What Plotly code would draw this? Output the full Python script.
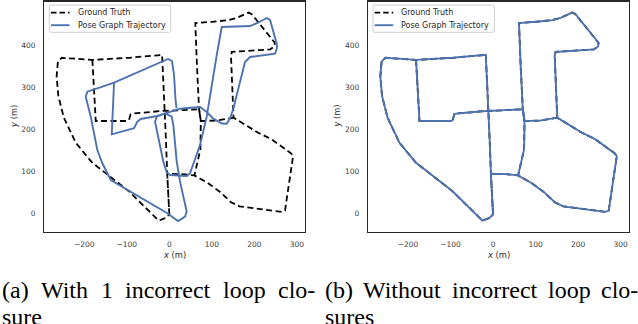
import plotly.graph_objects as go

# ---------------- data (metres) ----------------
# Ground-truth trajectory (None = break between two driven pieces)
gt_x = [0, -2, -5, -8, -11, -14, -17, -95, -181, -253, -262, -265, -261, -248, -220, -181, -95, -25, -9, 0,
        -2, -5, 30, 59, 90, 120, 145, 165, 264, 272, 291, 287, 241, 209, 151, 148, 145, 147, 237, 247, 248,
        194, 186, 160, 140, 100, 61, 65, 70, 74, 73, 59,
        None,
        -181, -173, -99, -95, -91, -84, -17, -11, 30, 70, 74, 110, 151]
gt_y = [-3, 32, 94, 176, 244, 310, 378, 371, 366, 371, 362, 327, 280, 228, 168, 120, 52, -18, -12, -3,
        32, 94, 93, 90, 72, 50, 26, 16, 3, 6, 136, 142, 176, 192, 228, 300, 375, 385, 391, 398, 407,
        475, 479, 467, 461, 457, 454, 351, 248, 220, 152, 90,
        None,
        366, 220, 220, 222, 236, 238, 244, 244, 246, 248, 220, 221, 228]

# Pose-graph estimate with one incorrect loop closure
pg_a_x = [16.9, 14.6, 11.1, 6.3, -3.1, -130.0, -157.5, -192.8, -196.6, -184.8, -169.3, -157.5, -137.8,
          -4.7, 20.5, 36.9, 40.9, 25.2, 17.4, 9.4, 5.6, -10.1, -29.6, -33.6, -14.1, -6.1, 1.6, 40.9,
          48.7, 72.2, 87.9, 95.7, 111.5, 123.2, 189.8, 208.6, 229.0, 236.8, 252.5, 253.2, 248.5, 189.8,
          178.0, 162.2, 150.5, 142.7, 135.0, 123.9, 103.5, 87.9, 72.2, 25.2, -28.2, -67.2, -75.2, -83.0,
          -135.4, -130.0]
pg_a_y = [251.0, 270.1, 329.9, 363.3, 368.1, 311.5, 302.0, 290.0, 278.1, 230.3, 150.7, 119.0, 79.1,
          -0.5, -18.9, -8.6, 3.3, 75.0, 122.8, 210.5, 230.3, 238.4, 230.3, 218.3, 122.8, 97.5, 91.0, 88.6,
          95.1, 162.7, 230.3, 282.1, 377.7, 444.6, 446.9, 454.8, 466.1, 461.3, 404.7, 394.4, 380.8, 372.9,
          361.0, 297.2, 249.4, 226.5, 213.6, 214.0, 225.5, 241.5, 253.5, 249.4, 232.0, 224.8, 218.4, 202.6,
          188.2, 311.5]

# Without incorrect loop closures the estimate coincides with the ground truth
pg_b_x = gt_x
pg_b_y = gt_y

x_ticks = [-200, -100, 0, 100, 200, 300]
y_ticks = [0, 100, 200, 300, 400, 500]
x_range = [-294, 319]
y_range = [-44, 505]

legend_labels = ["Ground Truth", "Pose Graph Trajectory"]

caption_a_words = ["(a)", "With", "1", "incorrect", "loop", "clo-"]
caption_a_left = [0, 39, 99, 123, 221, 276]
caption_a_rest = "sure"
caption_b_words = ["(b)", "Without", "incorrect", "loop", "clo-"]
caption_b_left = [323, 361, 450, 546, 599]
caption_b_rest = "sures"

# ---------------- figure ----------------
W, H = 638, 324
BLUE = "#4C72B0"
DARK = "#262626"
DASH = "6px,3.5px"
TICKFONT = dict(family="DejaVu Sans", size=7.5, color="#404040")


def fx(p):
    return p / W


def fy(p):
    return 1 - p / H


fig = go.Figure()

panels = [("x", "y", pg_a_x, pg_a_y), ("x2", "y2", pg_b_x, pg_b_y)]
for xa, ya, px_, py_ in panels:
    fig.add_trace(go.Scatter(x=gt_x, y=gt_y, mode="lines", name=legend_labels[0],
                             line=dict(color="black", width=1.8, dash=DASH),
                             xaxis=xa, yaxis=ya, showlegend=False, connectgaps=False))
    fig.add_trace(go.Scatter(x=px_, y=py_, mode="lines", name=legend_labels[1],
                             line=dict(color=BLUE, width=1.9),
                             xaxis=xa, yaxis=ya, showlegend=False, connectgaps=False))

left_box = (44.3, 305.0)
right_box = (368.0, 628.7)
top_px, bot_px = 1.7, 231.5

axis_common = dict(showline=True, mirror=True, linecolor=DARK, linewidth=1.25,
                   showgrid=False, zeroline=False, ticks="", tickfont=TICKFONT,
                   fixedrange=True, automargin=False)

fig.update_layout(
    width=W, height=H,
    margin=dict(l=0, r=0, t=0, b=0),
    paper_bgcolor="white", plot_bgcolor="white",
    showlegend=False,
    hovermode=False,
    xaxis=dict(domain=[fx(left_box[0]), fx(left_box[1])], range=x_range, tickvals=x_ticks,
               anchor="y", ticklabelstandoff=5, **axis_common),
    yaxis=dict(domain=[fy(bot_px), fy(top_px)], range=y_range, tickvals=y_ticks,
               anchor="x", ticklabelstandoff=6, **axis_common),
    xaxis2=dict(domain=[fx(right_box[0]), fx(right_box[1])], range=x_range, tickvals=x_ticks,
                anchor="y2", ticklabelstandoff=5, **axis_common),
    yaxis2=dict(domain=[fy(bot_px), fy(top_px)], range=y_range, tickvals=y_ticks,
                anchor="x2", ticklabelstandoff=6, **axis_common),
)

ann = []
shapes = []


def rounded_rect(x0, y0, x1, y1, r):
    # pixel coords (y down) -> paper path with rounded corners
    X = lambda p: fx(p)
    Y = lambda p: fy(p)
    return (f"M {X(x0 + r)},{Y(y0)} L {X(x1 - r)},{Y(y0)} Q {X(x1)},{Y(y0)} {X(x1)},{Y(y0 + r)} "
            f"L {X(x1)},{Y(y1 - r)} Q {X(x1)},{Y(y1)} {X(x1 - r)},{Y(y1)} "
            f"L {X(x0 + r)},{Y(y1)} Q {X(x0)},{Y(y1)} {X(x0)},{Y(y1 - r)} "
            f"L {X(x0)},{Y(y0 + r)} Q {X(x0)},{Y(y0)} {X(x0 + r)},{Y(y0)} Z")


for (l, r) in (left_box, right_box):
    # axis titles
    ann.append(dict(text="<i>x</i> (m)", x=fx((l + r) / 2), y=fy(255), xref="paper", yref="paper",
                    xanchor="center", yanchor="middle", showarrow=False,
                    font=dict(family="DejaVu Sans", size=8.3, color=DARK)))
    ann.append(dict(text="<i>y</i> (m)", x=fx(l - 31), y=fy((top_px + bot_px) / 2), xref="paper",
                    yref="paper", xanchor="center", yanchor="middle", showarrow=False, textangle=-90,
                    font=dict(family="DejaVu Sans", size=8.3, color=DARK)))
    # legend (matplotlib-style, compact)
    off = l - left_box[0]
    shapes.append(dict(type="path", xref="paper", yref="paper",
                       path=rounded_rect(49.3 + off, 5.0, 170.7 + off, 32.3, 2.0),
                       line=dict(color="#cfcfcf", width=1), fillcolor="rgba(255,255,255,0.85)"))
    shapes.append(dict(type="line", xref="paper", yref="paper",
                       x0=fx(51 + off), x1=fx(69.5 + off), y0=fy(12.7), y1=fy(12.7),
                       line=dict(color="black", width=1.8, dash="5.5px,3px")))
    shapes.append(dict(type="line", xref="paper", yref="paper",
                       x0=fx(51 + off), x1=fx(69.5 + off), y0=fy(25.2), y1=fy(25.2),
                       line=dict(color=BLUE, width=1.9)))
    for lab, yy in zip(legend_labels, (12.7, 25.2)):
        ann.append(dict(text=lab, x=fx(75.5 + off), y=fy(yy), xref="paper", yref="paper",
                        xanchor="left", yanchor="middle", showarrow=False,
                        font=dict(family="DejaVu Sans", size=8, color=DARK)))

CAPFONT = dict(family="Liberation Serif", size=24, color="black")
for words, lefts, rest in ((caption_a_words, caption_a_left, caption_a_rest),
                           (caption_b_words, caption_b_left, caption_b_rest)):
    for w, l in zip(words, lefts):
        ann.append(dict(text=w, x=fx(l), y=fy(290), xref="paper", yref="paper",
                        xanchor="left", yanchor="middle", showarrow=False, font=CAPFONT))
    ann.append(dict(text=rest, x=fx(lefts[0]), y=fy(317), xref="paper", yref="paper",
                    xanchor="left", yanchor="middle", showarrow=False, font=CAPFONT))

fig.update_layout(annotations=ann, shapes=shapes)
fig.write_html("out.html", post_script="document.body.style.margin='0px';",
               config={"displayModeBar": False, "staticPlot": True})
